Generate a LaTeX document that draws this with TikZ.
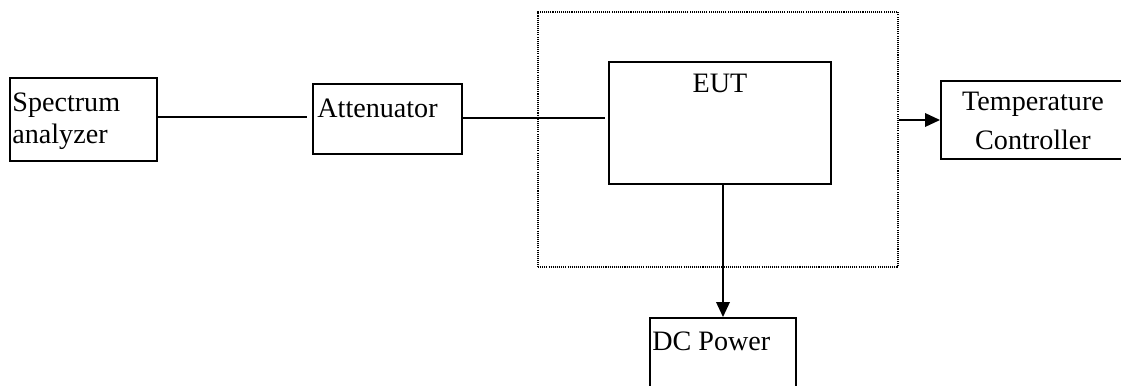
\documentclass[tikz,border=0pt]{standalone}
\usepackage{fontspec}
\setmainfont{Liberation Serif}
\usepackage{tikz}
\usetikzlibrary{positioning}
\usetikzlibrary{arrows.meta}

\begin{document}
\begin{tikzpicture}[
	box/.style={draw, line width=1.1pt, inner sep=0pt},
	lbl/.style={inner sep=0pt, font=\fontsize{16}{19}\selectfont},
	tip/.style={-{Triangle[length=0.3cm,width=0.27cm]}}]
	\clip (0,0) rectangle (22.42,-7.70);
	\node[box, minimum width=2.94cm, minimum height=1.66cm] (sa) at (1.67,-2.39){};
	\node[box, minimum width=2.98cm, minimum height=1.40cm] (att) at (7.75,-2.38){};
	\node[box, minimum width=4.44cm, minimum height=2.44cm] (eut) at (14.40,-2.46){};
	\node[draw, line width=0.7pt, dash pattern=on 0.6pt off 0.6pt, minimum width=7.20cm, minimum height=5.10cm] (chamber) at (14.36,-2.79){};
	\node[box, minimum width=3.68cm, minimum height=1.56cm] (temp) at (20.66,-2.40){};
	\node[box, minimum width=2.92cm, minimum height=1.60cm] (dc) at (14.46,-7.16){};
	% texts in the boxes
	\node[lbl, align=left, below right=0.30cm and 0.06cm of sa.north west] (salbl) {Spectrum\\[-0.02cm]analyzer};
	\node[lbl, below right=0.32cm and 0.10cm of att.north west] (attlbl) {Attenuator};
	\node[lbl, below=0.26cm of eut.north] (eutlbl) {EUT};
	\node[lbl, align=center, below=0.24cm of temp.north, font=\fontsize{16}{22}\selectfont] (templbl) {Temperature\\Controller};
	\node[lbl, below right=0.29cm and 0.06cm of dc.north west] (dclbl) {DC Power};
%	\node[lbl] (title) at (11,-0.5) {Test setup};
	\draw ([yshift=0.05cm]sa.east) edge[line width=1.1pt, shorten >=0.1cm] ([yshift=0.05cm]sa.east -| att.west)
	([yshift=0.02cm]att.east) edge[line width=1.1pt, shorten >=0.06cm] ([yshift=0.02cm]att.east -| eut.west)
	(dc.north |- eut.south) edge[line width=1.1pt, tip] (dc.north)
	(chamber.east |- temp.west) edge[line width=1.1pt, tip] (temp.west);
\end{tikzpicture}
\end{document}
